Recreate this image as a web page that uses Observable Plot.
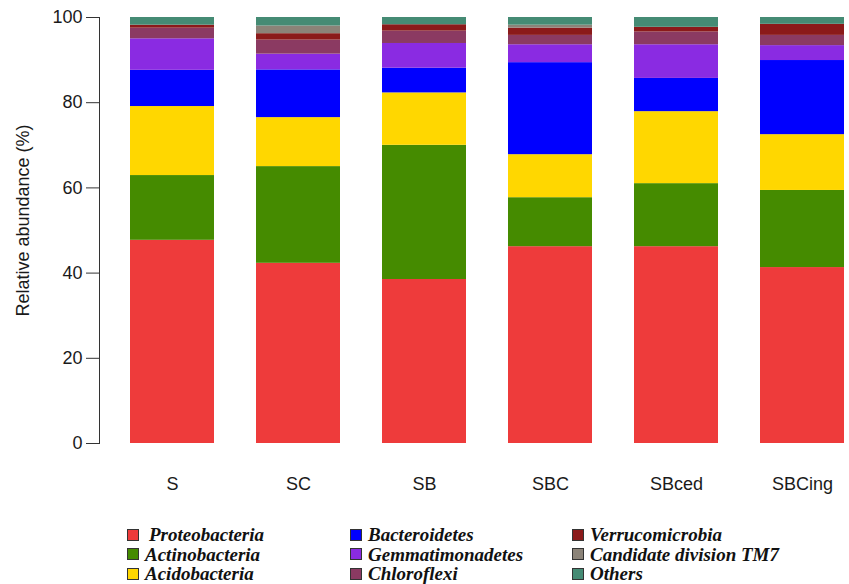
<!DOCTYPE html>
<html>
<head>
<meta charset="utf-8">
<script src="https://cdn.jsdelivr.net/npm/d3@7"></script>
<script src="https://cdn.jsdelivr.net/npm/@observablehq/plot@0.6"></script>
<style>
  html, body { margin: 0; padding: 0; background: #fff; }
  #wrap { position: relative; width: 849px; height: 584px; overflow: hidden; }
  #chart { position: absolute; left: 0; top: 0; }
  #legend { position: absolute; left: 127px; top: 525px; font-family: "Liberation Serif", "Times New Roman", serif;
            font-weight: bold; font-style: italic; font-size: 19px; color: #111;
            display: grid; grid-template-columns: 223px 222px 260px; grid-auto-flow: column; grid-template-rows: repeat(3, 19.5px); }
  .item { display: flex; align-items: center; white-space: nowrap; line-height: 19.5px; }
  .sw { width: 10px; height: 10px; border: 1px solid #333; margin-right: 6px; flex: none; }
</style>
</head>
<body>
<div id="wrap">
  <div id="chart"></div>
  <div id="legend"></div>
</div>
<script>
const samples = ["S", "SC", "SB", "SBC", "SBced", "SBCing"];
const phyla = ["Proteobacteria", "Actinobacteria", "Acidobacteria", "Bacteroidetes", "Gemmatimonadetes",
               "Chloroflexi", "Verrucomicrobia", "Candidate division TM7", "Others"];
const colors = ["#EE3B3B", "#458B00", "#FFD700", "#0000FF", "#8A2BE2", "#8B3A62", "#8B1A1A", "#8B8378", "#458B74"];

const proteobacteria   = [47.7, 42.3, 38.5, 46.2, 46.2, 41.3];
const actinobacteria   = [15.2, 22.7, 31.5, 11.5, 14.8, 18.1];
const acidobacteria    = [16.2, 11.5, 12.3, 10.1, 16.9, 13.1];
const bacteroidetes    = [ 8.5, 11.2,  5.8, 21.6,  7.8, 17.4];
const gemmatimonadetes = [ 7.4,  3.7,  5.8,  4.2,  7.9,  3.5];
const chloroflexi      = [ 2.5,  3.3,  2.9,  2.2,  3.0,  2.4];
const verrucomicrobia  = [ 0.7,  1.5,  1.5,  1.7,  1.1,  2.6];
const tm7              = [ 0.0,  1.8,  0.0,  0.7,  0.0,  0.0];
const others           = [ 1.8,  2.0,  1.7,  1.8,  2.3,  1.6];
const yTicks = [0, 20, 40, 60, 80, 100];

const series = [proteobacteria, actinobacteria, acidobacteria, bacteroidetes, gemmatimonadetes,
                chloroflexi, verrucomicrobia, tm7, others];
const table = [];
phyla.forEach((p, i) => samples.forEach((s, j) => table.push({sample: s, phylum: p, value: series[i][j]})));

const H = 520;
const chart = Plot.plot({
  width: 849,
  height: H,
  marginLeft: 99,
  marginRight: 2,
  marginTop: 17,
  marginBottom: H - 443,
  style: {fontFamily: "'Liberation Sans', Arial, sans-serif", fontSize: "18px", color: "#1a1a1a", background: "#fff"},
  x: {domain: samples, range: [128, 847], paddingInner: 0.33, paddingOuter: 0, label: null},
  y: {domain: [0, 100], label: null},
  color: {domain: phyla, range: colors},
  marks: [
    Plot.barY(table, {x: "sample", y: "value", fill: "phylum", order: phyla}),
    Plot.frame({anchor: "left", stroke: "#333"}),
    Plot.axisY({ticks: yTicks, tickSize: 13, tickPadding: 4, label: null, stroke: "#333", fontSize: 18}),
    Plot.axisX({tickSize: 0, tickPadding: 34, label: null, fontSize: 18}),
    Plot.text(["Relative abundance (%)"], {frameAnchor: "left", rotate: -90, dx: -76, dy: -10, fontSize: 18, textAnchor: "middle", fill: "#1a1a1a"})
  ]
});
document.getElementById("chart").appendChild(chart);

const legend = document.getElementById("legend");
phyla.forEach((p, i) => {
  const it = document.createElement("div");
  it.className = "item";
  const sw = document.createElement("span");
  sw.className = "sw";
  sw.style.background = colors[i];
  if (i === 0) sw.style.marginRight = "10px";
  const tx = document.createElement("span");
  tx.textContent = p;
  it.appendChild(sw);
  it.appendChild(tx);
  legend.appendChild(it);
});
</script>
</body>
</html>
